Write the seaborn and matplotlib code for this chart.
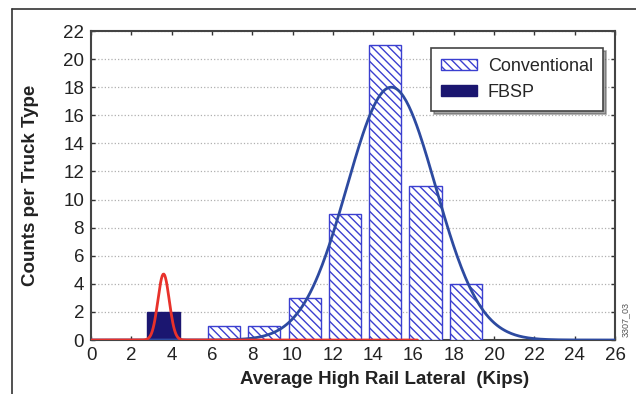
import numpy as np
import pandas as pd
import seaborn as sns
import matplotlib.pyplot as plt
from matplotlib.patches import Patch
from matplotlib.lines import Line2D

# datos
conv_centers = [6.6, 8.6, 10.6, 12.6, 14.6, 16.6, 18.6]
conv_counts = [1, 1, 3, 9, 21, 11, 4]
fbsp_centers = [3.6]
fbsp_counts = [2]

# parametros de los ajustes normales
conv_mu, conv_sigma, conv_peak = 14.9, 2.2, 18.0
fbsp_mu, fbsp_sigma, fbsp_peak = 3.6, 0.28, 4.7

x_ticks = list(range(0, 27, 2))
y_ticks = list(range(0, 23, 2))

sns.set_theme(style="white")
plt.rcParams['font.family'] = ['Liberation Sans', 'DejaVu Sans']
plt.rcParams['hatch.linewidth'] = 1.0

fig = plt.figure(figsize=(6.36, 3.94), dpi=100)
ax = fig.add_axes([0.1431, 0.137, 0.967 - 0.1431, 0.9213 - 0.137])

blue_edge = '#3b3fd0'
navy = '#1b1670'
hatch = '\\\\\\\\'

conv = pd.DataFrame({'x': conv_centers, 'n': conv_counts})
fbsp = pd.DataFrame({'x': fbsp_centers, 'n': fbsp_counts})

sns.barplot(data=conv, x='x', y='n', native_scale=True, width=0.8,
            color='white', edgecolor=blue_edge, hatch=hatch, linewidth=1.0,
            saturation=1, errorbar=None, ax=ax, zorder=3)
sns.barplot(data=fbsp, x='x', y='n', native_scale=True, width=1.6,
            color=navy, edgecolor=navy, linewidth=1.0,
            saturation=1, errorbar=None, ax=ax, zorder=3)

# curvas de ajuste
xb = np.linspace(0, 26, 400)
yb = conv_peak * np.exp(-0.5 * ((xb - conv_mu) / conv_sigma) ** 2)
xr = np.linspace(0, 16.2, 400)
yr = fbsp_peak * np.exp(-0.5 * ((xr - fbsp_mu) / fbsp_sigma) ** 2)
sns.lineplot(x=xb, y=yb, color='#2d4aa0', linewidth=2.0, ax=ax, zorder=4)
sns.lineplot(x=xr, y=yr, color='#e8322b', linewidth=2.0, ax=ax, zorder=5)

ax.set_xlim(0, 26)
ax.set_ylim(0, 22)
ax.set_xticks(x_ticks)
ax.set_xticklabels([str(v) for v in x_ticks])
ax.set_yticks(y_ticks)
ax.set_yticklabels([str(v) for v in y_ticks])
ax.tick_params(direction='in', length=3, width=1, colors='#333333',
               labelcolor='#222222', labelsize=13.5, top=True, right=True,
               bottom=True, left=True, pad=5)
ax.yaxis.grid(True, linestyle=':', color='#b0b0b0', linewidth=0.9)
ax.xaxis.grid(False)
ax.set_axisbelow(True)
for s in ax.spines.values():
    s.set_color('#444444')
    s.set_linewidth(1.5)

ax.set_xlabel('Average High Rail Lateral  (Kips)', fontsize=13.5,
              fontweight='bold', color='#222222')
ax.xaxis.set_label_coords(0.561, -0.1)
ax.set_ylabel('Counts per Truck Type', fontsize=13.5, fontweight='bold',
              color='#222222')
ax.yaxis.set_label_coords(-0.099, 0.5)

handles = [Patch(facecolor='white', edgecolor=blue_edge, hatch=hatch,
                 label='Conventional'),
           Patch(facecolor=navy, edgecolor=navy, label='FBSP')]
leg = ax.legend(handles=handles, loc='upper right',
                bbox_to_anchor=(0.977, 0.945), borderaxespad=0,
                fontsize=13, frameon=True,
                fancybox=False, shadow=True, framealpha=1,
                edgecolor='#444444', handlelength=2.0, handleheight=0.6,
                borderpad=0.55, labelspacing=0.5, handletextpad=0.6)
leg.get_frame().set_linewidth(1.2)

fig.text(0.984, 0.19, '3307_03', rotation=90, fontsize=6.5, color='#555555',
         ha='center', va='center')

# marco exterior
fig.add_artist(Line2D([12 / 636, 12 / 636], [0, 1 - 9 / 394],
                      transform=fig.transFigure, color='#333333', lw=1.2))
fig.add_artist(Line2D([12 / 636, 1], [1 - 9 / 394, 1 - 9 / 394],
                      transform=fig.transFigure, color='#333333', lw=1.2))

fig.savefig('out.png', dpi=100)
